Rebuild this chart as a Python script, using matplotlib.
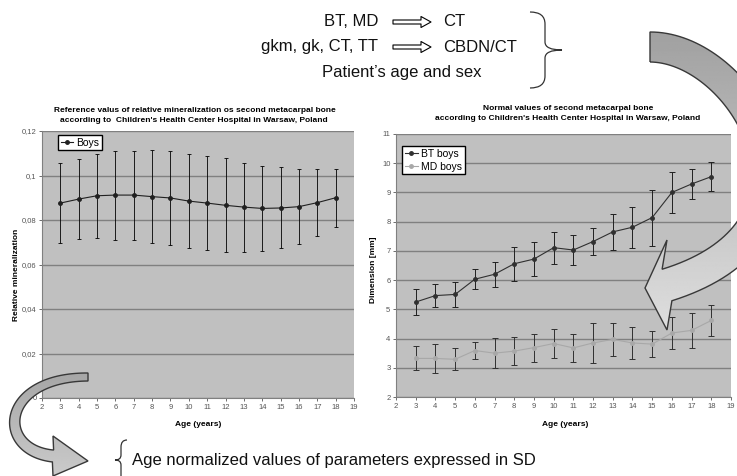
import numpy as np
import matplotlib
matplotlib.use('Agg')
import matplotlib.pyplot as plt
from matplotlib.patches import FancyArrowPatch, PathPatch, Polygon
from matplotlib.path import Path
from matplotlib.ticker import FuncFormatter

# data
ages = list(range(3, 19))
boys_mineral = [0.0876, 0.0894, 0.0909, 0.0912, 0.0912, 0.0905, 0.0899, 0.0885,
                0.0876, 0.0866, 0.0858, 0.0852, 0.0854, 0.0860, 0.0878, 0.0900]
boys_mineral_sd = [0.018, 0.0179, 0.0189, 0.020, 0.020, 0.021, 0.021, 0.021,
                   0.021, 0.0211, 0.020, 0.019, 0.0182, 0.017, 0.0149, 0.013]

bt_boys = [5.25, 5.47, 5.51, 6.03, 6.20, 6.56, 6.72, 7.11,
           7.03, 7.32, 7.65, 7.81, 8.14, 9.00, 9.29, 9.54]
bt_boys_sd = [0.46, 0.38, 0.43, 0.35, 0.43, 0.58, 0.59, 0.55,
              0.51, 0.46, 0.62, 0.70, 0.96, 0.69, 0.51, 0.49]
md_boys = [3.32, 3.32, 3.29, 3.59, 3.50, 3.57, 3.69, 3.83,
           3.68, 3.85, 3.97, 3.85, 3.81, 4.19, 4.28, 4.62]
md_boys_sd = [0.41, 0.49, 0.37, 0.30, 0.51, 0.47, 0.48, 0.50,
              0.47, 0.69, 0.56, 0.55, 0.45, 0.54, 0.60, 0.52]

W, H = 737, 476
narrow = ['Liberation Sans Narrow', 'Liberation Sans', 'DejaVu Sans']
plain = ['Liberation Sans', 'DejaVu Sans']
plt.rcParams['font.family'] = narrow

fig = plt.figure(figsize=(W / 100, H / 100), dpi=100)


def frame(x0, y0, x1, y1):
    # pixel box (top-left origin) -> figure fractions
    return [x0 / W, 1 - y1 / H, (x1 - x0) / W, (y1 - y0) / H]


def style(ax):
    ax.set_facecolor('#c0c0c0')
    ax.set_xlim(2, 19)
    ax.set_xticks(range(2, 20))
    ax.grid(axis='y', color='#808080', lw=1)
    ax.set_axisbelow(True)
    for s in ['top', 'right']:
        ax.spines[s].set_visible(False)
    for s in ['left', 'bottom']:
        ax.spines[s].set_color('#808080')
        ax.spines[s].set_linewidth(0.8)
    ax.tick_params(labelsize=5.5, colors='#555555', length=2, width=0.6, pad=2)


# left chart
ax1 = fig.add_axes(frame(42, 131, 354, 398))
style(ax1)
ax1.errorbar(ages, boys_mineral, yerr=boys_mineral_sd, fmt='none', ecolor='black',
             elinewidth=0.6, capsize=1.5, capthick=0.6)
ax1.plot(ages, boys_mineral, color='#202020', lw=0.8, marker='o', ms=2.5, label='Boys')
ax1.set_ylim(0, 0.12)
ax1.set_yticks(np.arange(0, 0.121, 0.02))
ax1.yaxis.set_major_formatter(FuncFormatter(lambda v, p: f"{v:.2f}".rstrip('0').rstrip('.').replace('.', ',')))
ax1.legend(loc='upper left', bbox_to_anchor=(16 / 312, 1 - 4 / 267), fontsize=7.5,
           fancybox=False, edgecolor='black', framealpha=1, borderpad=0.25,
           handlelength=1.2, handletextpad=0.3, borderaxespad=0)

# right chart
ax2 = fig.add_axes(frame(396, 134, 731, 397))
style(ax2)
ax2.errorbar(ages, bt_boys, yerr=bt_boys_sd, fmt='none', ecolor='#202020',
             elinewidth=0.7, capsize=2, capthick=0.7)
ax2.errorbar(ages, md_boys, yerr=md_boys_sd, fmt='none', ecolor='#303030',
             elinewidth=0.7, capsize=2, capthick=0.7)
ax2.plot(ages, bt_boys, color='#303030', lw=0.8, marker='o', ms=2.5, label='BT boys')
ax2.plot(ages, md_boys, color='#a8a8a8', lw=0.8, marker='o', ms=2.5, label='MD boys')
ax2.set_ylim(2, 11)
ax2.set_yticks(range(2, 12))
ax2.legend(loc='upper left', bbox_to_anchor=(6 / 335, 1 - 12 / 263), fontsize=7.5,
           fancybox=False, edgecolor='black', framealpha=1, borderpad=0.25,
           handlelength=1.3, handletextpad=0.3, borderaxespad=0, labelspacing=0.3)

# overlay in pixel coordinates for texts and decorations
ov = fig.add_axes([0, 0, 1, 1])
ov.set_xlim(0, W)
ov.set_ylim(H, 0)
ov.axis('off')

tkw = dict(ha='center', va='center', fontsize=6, fontweight='bold', family=narrow)
ov.text(195, 110, "Reference valus of relative mineralization os second metacarpal bone", **tkw)
ov.text(194, 121, "according to  Children's Health Center Hospital in Warsaw, Poland", **tkw)
ov.text(568, 108, "Normal values of second metacarpal bone", **tkw)
ov.text(568, 119, "according to Children's Health Center Hospital in Warsaw, Poland", **tkw)
ov.text(198, 425, "Age (years)", **tkw)
ov.text(565, 425, "Age (years)", **tkw)
ov.text(17, 275, "Relative mineralization", rotation=90, **tkw)
ov.text(374, 270, "Dimension [mm]", rotation=90, **tkw)

bkw = dict(va='center', fontsize=12, family=plain, color='#111111')
ov.text(378, 22, "BT, MD", ha='right', **bkw)
ov.text(443, 22, "CT", ha='left', **bkw)
ov.text(378, 47, "gkm, gk, CT, TT", ha='right', **bkw)
ov.text(443, 47, "CBDN/CT", ha='left', **bkw)
ov.text(402, 73, "Patient\u2019s age and sex", ha='center', **bkw)
ov.text(132, 460, "Age normalized values of parameters expressed in SD", ha='left', **bkw)

px = 72 / 100  # mutation scale so arrow sizes are in pixels
for yy in [22, 47]:
    ov.add_patch(FancyArrowPatch((393, yy), (431, yy),
                                 arrowstyle='simple,head_length=10,head_width=11,tail_width=4',
                                 mutation_scale=px, fc='white', ec='black', lw=0.8,
                                 shrinkA=0, shrinkB=0))

# braces
brace_top = Path([(530, 12), (545, 12), (545, 24), (545, 42), (545, 50), (562, 50),
                  (545, 50), (545, 58), (545, 76), (545, 88), (530, 88)],
                 [Path.MOVETO, Path.CURVE3, Path.CURVE3, Path.LINETO, Path.CURVE3, Path.CURVE3,
                  Path.CURVE3, Path.CURVE3, Path.LINETO, Path.CURVE3, Path.CURVE3])
ov.add_patch(PathPatch(brace_top, fc='none', ec='#333333', lw=0.9))
brace_bot = Path([(127, 440), (121, 440), (121, 447), (121, 455), (121, 460), (115, 460),
                  (121, 460), (121, 465), (121, 478)],
                 [Path.MOVETO, Path.CURVE3, Path.CURVE3, Path.LINETO, Path.CURVE3, Path.CURVE3,
                  Path.CURVE3, Path.CURVE3, Path.LINETO])
ov.add_patch(PathPatch(brace_bot, fc='none', ec='#333333', lw=0.9))


def curved_arrow(pts, w0, w1, head_half, tip):
    # block arrow following a cubic bezier, head base kept vertical
    p = np.array(pts, dtype=float)
    t = np.linspace(0, 1, 80)[:, None]
    b = ((1 - t) ** 3 * p[0] + 3 * (1 - t) ** 2 * t * p[1]
         + 3 * (1 - t) * t ** 2 * p[2] + t ** 3 * p[3])
    d = (3 * (1 - t) ** 2 * (p[1] - p[0]) + 6 * (1 - t) * t * (p[2] - p[1])
         + 3 * t ** 2 * (p[3] - p[2]))
    n = np.column_stack([-d[:, 1], d[:, 0]]) / np.hypot(d[:, 0], d[:, 1])[:, None]
    w = (w0 + (w1 - w0) * t) / 2
    side_a = b + n * w
    side_b = b - n * w
    if side_a[-1, 1] > side_b[-1, 1]:
        side_a, side_b = side_b, side_a
    end = b[-1]
    head = [(end[0], end[1] - head_half), tip, (end[0], end[1] + head_half)]
    return np.vstack([side_a, head, side_b[::-1]])


big = Polygon(curved_arrow([(650, 47), (745, 47), (850, 228), (667, 285)], 30, 33, 45, (645, 288)),
              closed=True, fc='none', ec='#383838', lw=1, zorder=3)
ov.add_patch(big)
img = ov.imshow(np.linspace(0.62, 0.88, 256).reshape(-1, 1), cmap='gray', vmin=0, vmax=1,
                extent=[600, 800, 340, 20], aspect='auto', zorder=2)
img.set_clip_path(big)

small = Polygon(curved_arrow([(88, 377), (0, 377), (-5, 450), (53, 456)], 8, 12, 20, (88, 461)),
                closed=True, fc='none', ec='#383838', lw=1, zorder=3)
ov.add_patch(small)
img2 = ov.imshow(np.linspace(0.64, 0.80, 256).reshape(-1, 1), cmap='gray', vmin=0, vmax=1,
                 extent=[0, 130, 480, 365], aspect='auto', zorder=2)
img2.set_clip_path(small)
ov.set_xlim(0, W)
ov.set_ylim(H, 0)

fig.savefig('out.png', dpi=100)
